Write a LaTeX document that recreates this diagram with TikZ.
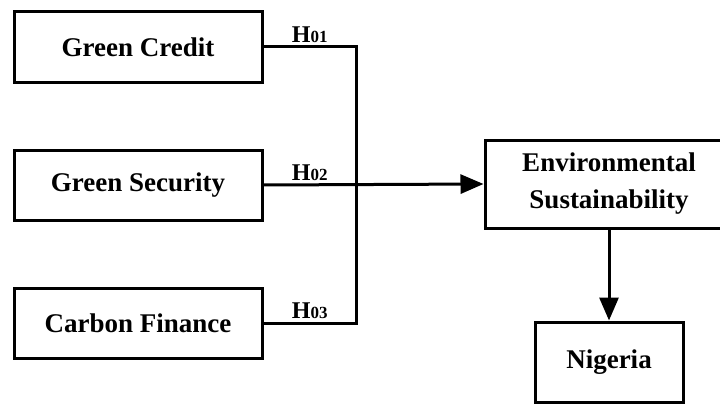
\documentclass[tikz,border=0pt]{standalone}
\usepackage{fontspec}
\setmainfont{Liberation Serif}
\usetikzlibrary{arrows.meta}

\newcommand{\hyp}[1]{H{\fontsize{17}{17}\selectfont #1}}

\begin{document}
\begin{tikzpicture}[x=1pt, y=-1pt, node distance=138pt,
    every node/.style={font=\fontsize{27}{37}\selectfont\bfseries}]
    \tikzstyle{block} = [rectangle, draw, line width=3pt, inner sep=0pt,
        text centered, minimum width=248pt, minimum height=70pt]
    \tikzstyle{link} = [line width=3pt, color=black]
    \tikzstyle{arrow} = [link, -{Triangle[length=23pt, width=19pt]}]
    \tikzstyle{hlabel} = [above, inner sep=3pt, font=\fontsize{24}{24}\selectfont\bfseries]

    \useasboundingbox (0,0) rectangle (720,404);

    \node [block] (credit) at (138,47) {Green Credit};
    \node [block, below of=credit] (security) {Green Security};
    \node [block, below of=security] (carbon) {Carbon Finance};
    \node [block, minimum height=88pt, text width=240pt,
        align=center] (env) at (609,184) {Environmental\\Sustainability};
    \node [block, minimum width=148pt, minimum height=80pt,
        below of=env, node distance=178pt] (nigeria) {Nigeria};

    \coordinate (hub) at (356,185);

    \draw [link] (credit.east) -| node[hlabel, pos=0.25] {\hyp{01}} (hub);
    \draw [link] (carbon.east) -| node[hlabel, pos=0.25] {\hyp{03}} (hub);
    \draw [arrow] (security.east) -- node[hlabel, pos=0.21] {\hyp{02}} (env.west);
    \draw [arrow] (env.south) -- (nigeria.north);
\end{tikzpicture}
\end{document}
